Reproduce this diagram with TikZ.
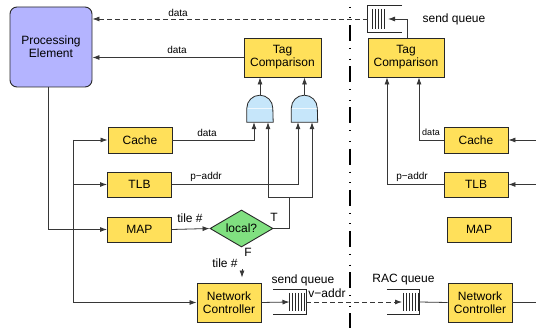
\documentclass[tikz,border=0pt]{standalone}
\usepackage{fontspec}
\setmainfont{Liberation Sans}
\usetikzlibrary{arrows.meta,shapes.geometric,calc}
\definecolor{boxyellow}{RGB}{255,224,90}
\definecolor{pecol}{RGB}{180,180,255}
\definecolor{gatecol}{RGB}{198,230,250}
\definecolor{deccol}{RGB}{128,224,128}
\definecolor{edgecol}{RGB}{40,40,40}
\definecolor{wirecol}{RGB}{55,55,55}
\tikzset{
  wire/.style={draw=wirecol, line width=0.8pt},
  arr/.style={wire, -{Latex[length=7pt,width=5pt]}},
  darr/.style={arr, dash pattern=on 5pt off 3pt},
  unit/.style={draw=edgecol, fill=boxyellow, line width=0.9pt, minimum width=64pt,
    minimum height=25pt, inner sep=0pt, align=center, font=\fontsize{12}{13}\selectfont},
  tall/.style={unit, minimum height=39pt},
  pe/.style={draw=edgecol, fill=pecol, line width=0.9pt, rounded corners=7pt,
    minimum width=82pt, minimum height=80pt, inner sep=0pt, align=center,
    font=\fontsize{12}{13}\selectfont},
  decision/.style={diamond, draw=edgecol, fill=deccol, line width=0.9pt, aspect=1.7,
    minimum width=63pt, minimum height=37pt, inner sep=0pt, font=\fontsize{12}{13}\selectfont},
  gatebox/.style={draw=none, minimum width=26pt, minimum height=27pt, inner sep=0pt},
  gateshape/.style={draw=edgecol, fill=gatecol, line width=0.8pt},
  qbox/.style={draw=none, minimum width=33pt, minimum height=25pt, inner sep=0pt},
  qline/.style={draw=edgecol, line width=0.8pt},
  stripe/.style={draw=edgecol, line width=0.6pt},
  lbl/.style={font=\fontsize{10}{12}\selectfont, inner sep=0pt},
  biglbl/.style={font=\fontsize{12}{14}\selectfont, inner sep=0pt},
  divider/.style={draw=black, line width=1.4pt,
    dash pattern=on 16pt off 7pt on 0.6pt off 10pt on 0.6pt off 7pt, dash phase=16.2pt},
}
\begin{document}
\begin{tikzpicture}[x=1pt, y=-1pt]
\useasboundingbox (0,0) rectangle (536,328);
\fill[white] (0,0) rectangle (536,328);

% tile boundary
\coordinate (divTop) at (350,0);
\coordinate (divBot) at (350,328);
\draw[divider] (divTop) -- (divBot);

% ---- local tile ----
\node[pe] (PE) at (51,47) {Processing\\Element};
\node[tall, minimum width=77pt] (tagL) at (282.5,57.5) {Tag\\Comparison};
\node[unit, minimum height=26pt] (cacheL) at (140,140) {Cache};
\node[unit] (tlbL) at (139.5,184.5) {TLB};
\node[unit] (mapL) at (139.5,229.5) {MAP};
\node[tall] (ncL) at (229,302.5) {Network\\Controller};
\node[decision] (dec) at (241.5,228.5) {local?};

% AND gates
\node[gatebox] (g1) at (260,108.5) {};
\node[gatebox] (g2) at (304.5,108.5) {};
\foreach \g in {g1,g2}{
  \draw[gateshape] (\g.south west) -- ([yshift=14pt]\g.south west)
    arc[start angle=180, end angle=0, radius=13pt] -- (\g.south east) -- cycle;
  \draw[white, opacity=0.75, line width=0.6pt]
    ([xshift=1pt,yshift=14pt]\g.south west) -- ([xshift=-1pt,yshift=14pt]\g.south east);
}
\coordinate (g1a) at ([xshift=-6pt]g1.south);
\coordinate (g1b) at ([xshift=8pt]g1.south);
\coordinate (g2a) at ([xshift=-6.5pt]g2.south);
\coordinate (g2b) at ([xshift=7.5pt]g2.south);

% send queue (local)
\node[qbox, minimum height=24pt] (sq) at (289.5,302) {};
\draw[qline] (sq.north west) -- (sq.north east) -- (sq.south east) -- (sq.south west);
\foreach \dx in {-0.5,2.5,5.5,8.5,11.5,14.5}
  \draw[stripe] ([xshift=\dx pt,yshift=-3pt]sq.north) -- ([xshift=\dx pt,yshift=3pt]sq.south);

% ---- remote tile ----
\node[tall, minimum width=76pt] (tagR) at (406,57.5) {Tag\\Comparison};
\node[unit, minimum height=26pt] (cacheR) at (476,140) {Cache};
\node[unit] (tlbR) at (476,184.5) {TLB};
\node[unit] (mapR) at (479,229.5) {MAP};
\node[tall] (ncR) at (480,302.5) {Network\\Controller};

% RAC queue
\node[qbox, minimum width=32pt, minimum height=24pt] (rq) at (403,302) {};
\draw[qline] (rq.north west) -- (rq.north east) -- (rq.south east) -- (rq.south west);
\foreach \dx in {0,3,6,9,12,15}
  \draw[stripe] ([xshift=\dx pt,yshift=-3pt]rq.north) -- ([xshift=\dx pt,yshift=3pt]rq.south);

% send queue (remote)
\node[qbox, minimum width=34pt, minimum height=26pt] (sqR) at (385,19) {};
\draw[qline] (sqR.north east) -- (sqR.north west) -- (sqR.south west) -- (sqR.south east);
\foreach \dx in {-13,-10,-7,-4,-1}
  \draw[stripe] ([xshift=\dx pt,yshift=-3pt]sqR.north) -- ([xshift=\dx pt,yshift=3pt]sqR.south);

% ---- connectors, local tile ----
\draw[darr] (sqR.west) -- (sqR.west -| PE.east);
\draw[arr] (tagL.west) -- (tagL.west -| PE.east);
\draw[arr] (g1.north) -- (g1.north |- tagL.south);
\draw[arr] (g2.north) -- (g2.north |- tagL.south);
\draw[arr] (cacheL.east) -| (g1a);
\draw[arr] (tlbL.east) -| (g2a);
\coordinate (tj) at (289,197);
\draw[wire] (dec.east) -| (tj);
\draw[arr] (tj) -| (g1b);
\draw[arr] (tj) -| (g2b);
\draw[arr] ([xshift=-3pt]PE.south) |- (mapL.west);
\coordinate (busTop) at (73,140);
\draw[arr] (busTop) -- (cacheL.west);
\draw[arr] (busTop) |- (ncL.west);
\draw[arr] (busTop |- tlbL.west) -- (tlbL.west);
\draw[arr] (mapL.east) -- (dec.west);
\coordinate (fTail) at (242,269);
\draw[arr] (fTail) -- ([yshift=5pt]ncL.north -| fTail);
\draw[arr] (ncL.east) -- (sq.center);
\draw[darr] (sq.east) -- ([xshift=-1pt]rq.center);

% ---- connectors, remote tile ----
\draw[wire] (rq.east) -- (ncR.west);
\coordinate (eN) at (536,302.5);
\coordinate (eC) at (536,140);
\coordinate (eT) at (536,184.5);
\draw[wire] (ncR.east) -- (eN);
\draw[arr] (eC) -- (cacheR.east);
\draw[arr] (eT) -- (tlbR.east);
\draw[arr] (cacheR.west) -| ([xshift=13pt]tagR.south);
\draw[arr] (tlbR.west) -| ([xshift=-19pt]tagR.south);
\draw[arr] ([xshift=1.5pt]tagR.north) |- ([xshift=3pt]sqR.center);

% ---- labels ----
\node[lbl] at (178,13) {data};
\node[lbl] at (177,50) {data};
\node[lbl] at (207,133) {data};
\node[lbl] at (206,177) {p−addr};
\node[biglbl] at (190,218) {tile \#};
\node[biglbl] at (225,263) {tile \#};
\node[biglbl] at (274,217) {T};
\node[biglbl] at (248,252) {F};
\node[biglbl] at (303,280) {send queue};
\node[biglbl] at (327,293) {v−addr};
\node[biglbl] at (403.5,280) {RAC queue};
\node[biglbl] at (454,19) {send queue};
\node[lbl, font=\fontsize{9}{11}\selectfont] at (431,132) {data};
\node[lbl] at (412,177) {p−addr};
\end{tikzpicture}
\end{document}
